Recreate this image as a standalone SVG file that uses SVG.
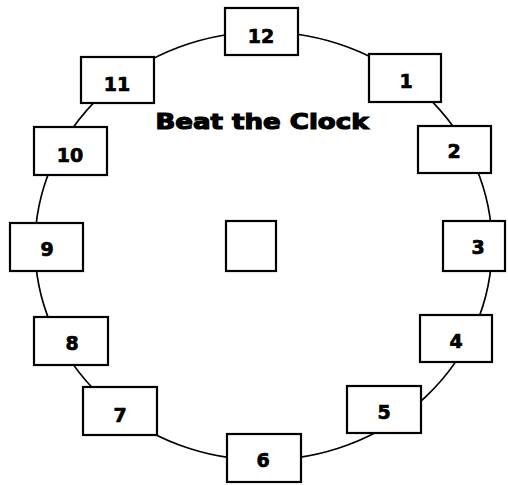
<svg xmlns="http://www.w3.org/2000/svg" width="508" height="485" viewBox="0 0 508 485">
<style>
.box{fill:#fff;stroke:#000;stroke-width:2.2}
.lbl{font-family:"DejaVu Sans",sans-serif;font-weight:bold;font-size:19px;text-anchor:middle;fill:#000;stroke:#000;stroke-width:0.7}
.ring{fill:none;stroke:#000;stroke-width:1.7}
</style>
<rect width="508" height="485" fill="#fff"/>
<g id="connectors">
<ellipse class="ring" cx="263.5" cy="246" rx="228.5" ry="214"/>
</g>
<g id="title">
<text x="262" y="129" font-family="DejaVu Sans, sans-serif" font-weight="bold" font-size="22" text-anchor="middle" stroke="#000" stroke-width="1.2" textLength="213" lengthAdjust="spacingAndGlyphs">Beat the Clock</text>
</g>
<g id="n12"><rect class="box" x="225" y="8" width="73" height="47"/><text class="lbl" x="261" y="43">12</text></g>
<g id="n1"><rect class="box" x="369" y="54" width="72" height="48"/><text class="lbl" x="406" y="88">1</text></g>
<g id="n2"><rect class="box" x="418" y="126" width="73" height="47"/><text class="lbl" x="454" y="158">2</text></g>
<g id="n3"><rect class="box" x="443" y="221" width="62" height="50"/><text class="lbl" x="478" y="254">3</text></g>
<g id="n4"><rect class="box" x="420" y="315" width="72" height="47"/><text class="lbl" x="456" y="348">4</text></g>
<g id="n5"><rect class="box" x="347" y="386" width="74" height="47"/><text class="lbl" x="384" y="419">5</text></g>
<g id="n6"><rect class="box" x="227" y="434" width="74" height="48"/><text class="lbl" x="263" y="467">6</text></g>
<g id="n7"><rect class="box" x="83" y="387" width="74" height="48"/><text class="lbl" x="120" y="422">7</text></g>
<g id="n8"><rect class="box" x="34" y="317" width="74" height="48"/><text class="lbl" x="72" y="350">8</text></g>
<g id="n9"><rect class="box" x="10" y="223" width="73" height="48"/><text class="lbl" x="47" y="256">9</text></g>
<g id="n10"><rect class="box" x="34" y="127" width="73" height="48"/><text class="lbl" x="70" y="162">10</text></g>
<g id="n11"><rect class="box" x="81" y="57" width="73" height="46"/><text class="lbl" x="117" y="91">11</text></g>
<g id="center"><rect class="box" x="226" y="221" width="50" height="50"/></g>
</svg>
